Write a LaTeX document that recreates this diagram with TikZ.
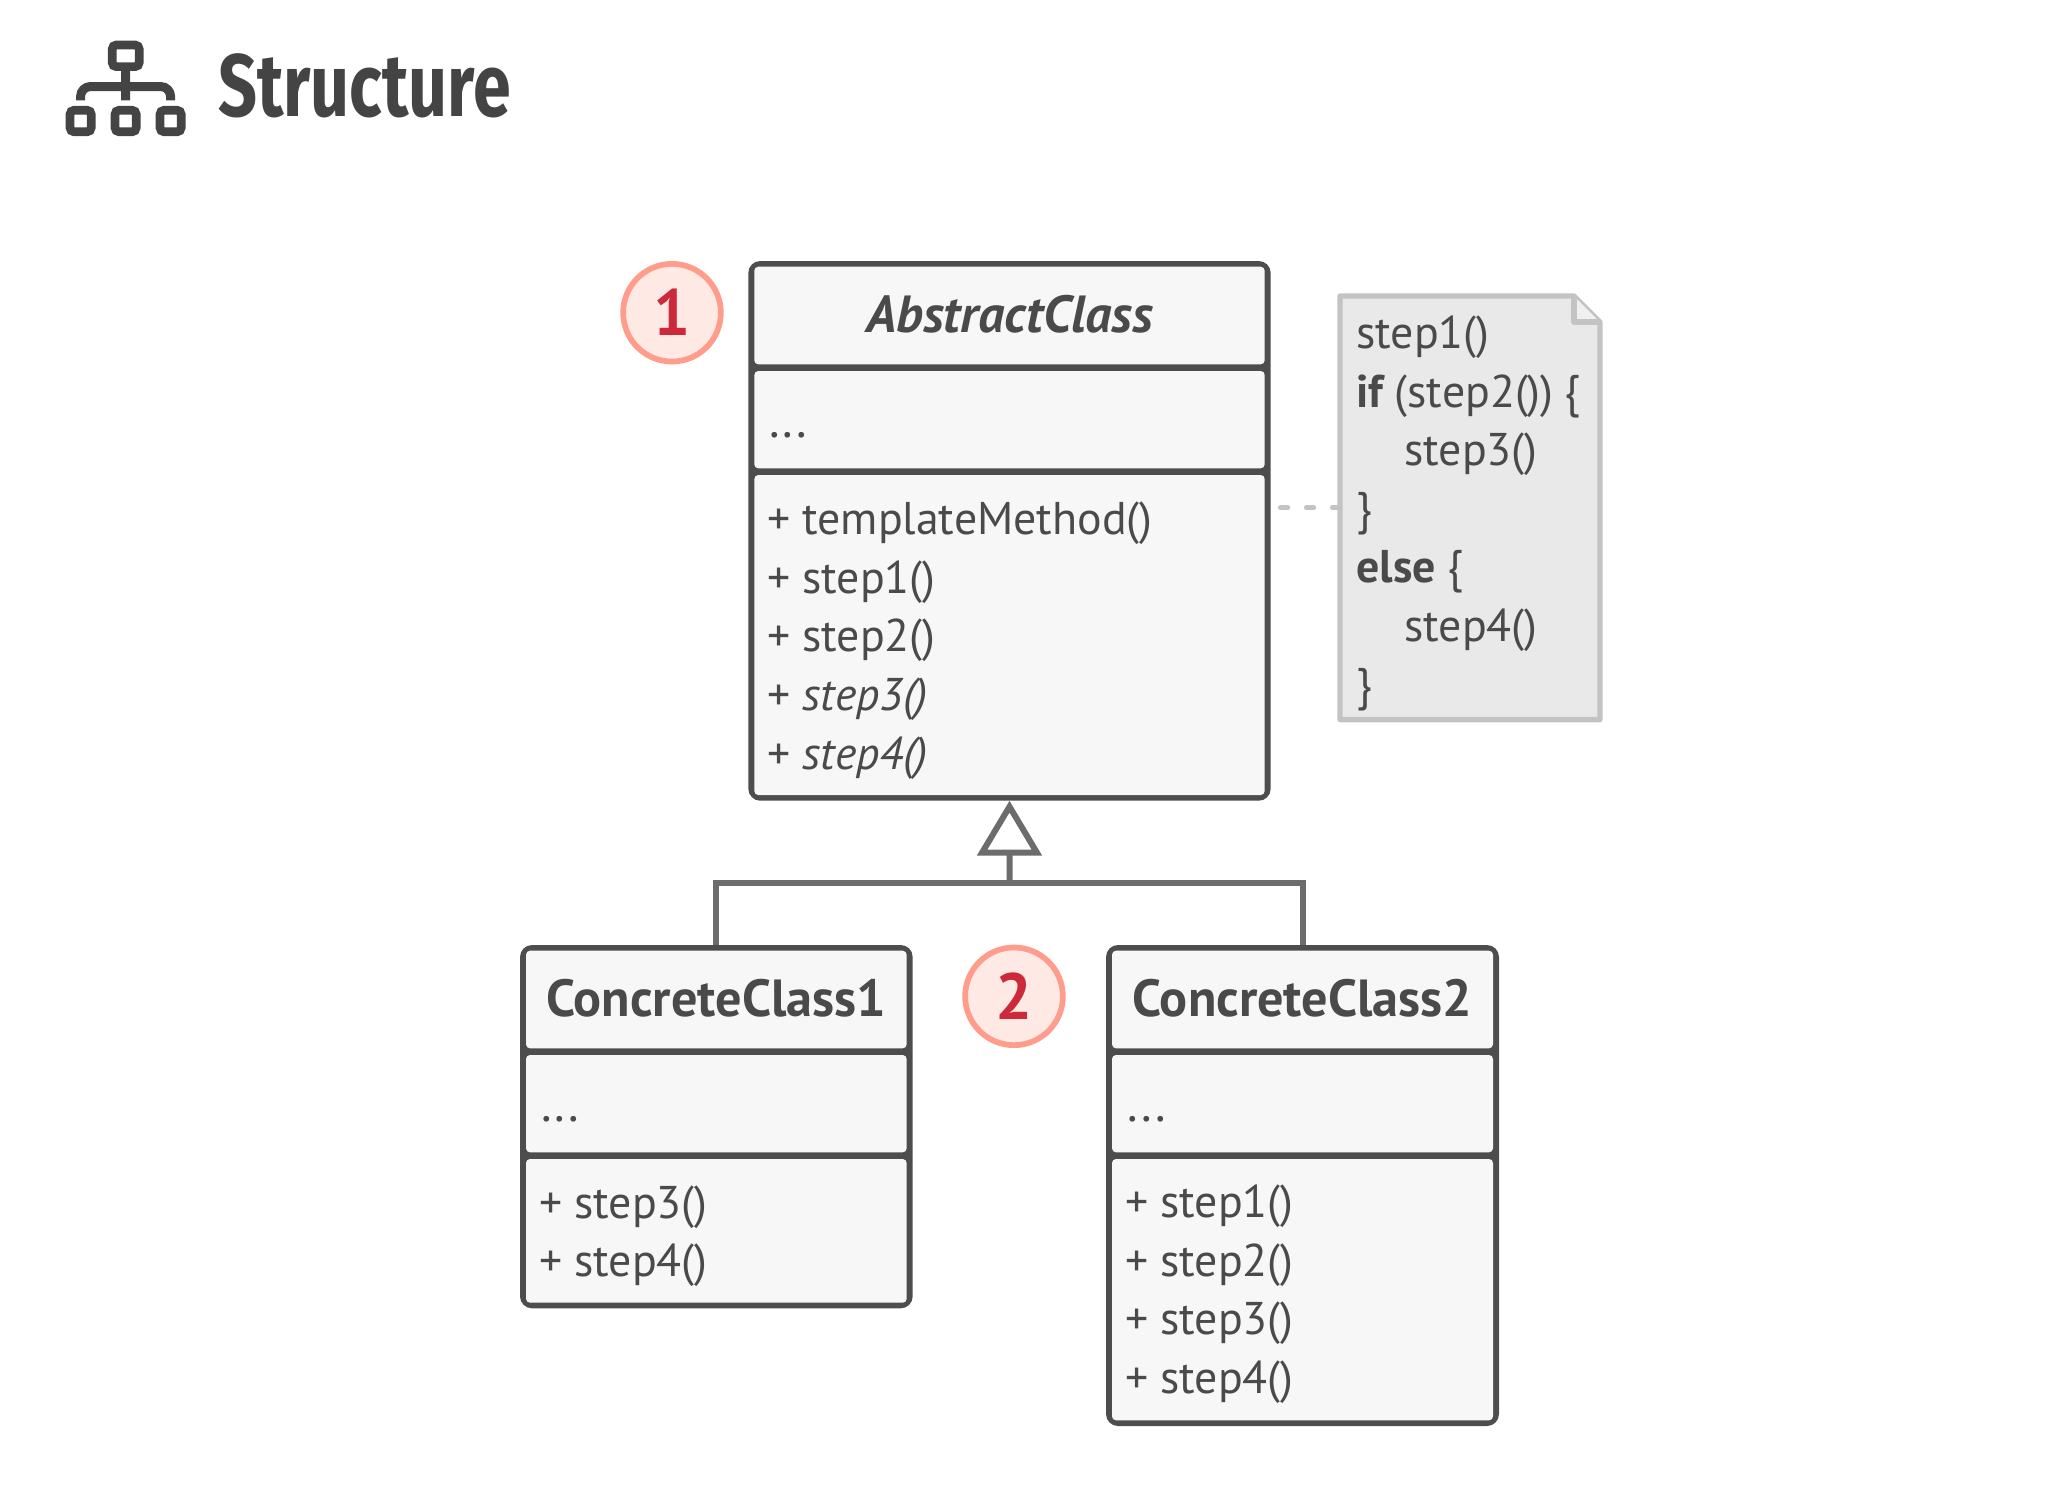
\documentclass[tikz,border=0pt]{standalone}
\usepackage{fontspec}
\setmainfont{PT Sans}
\newfontfamily\titlefont[FakeStretch=0.77]{Fira Sans}
\usetikzlibrary{positioning}
\usetikzlibrary{calc,arrows.meta}
\definecolor{framegray}{HTML}{4D4D4D}
\definecolor{textgray}{HTML}{4A4A4A}
\definecolor{partgray}{HTML}{F7F7F7}
\definecolor{linkgray}{HTML}{6C6C6C}
\definecolor{notegray}{HTML}{C3C3C3}
\definecolor{notefill}{HTML}{E9E9E9}
\definecolor{foldfill}{HTML}{F0F0F0}
\definecolor{markerring}{HTML}{FF9C8C}
\definecolor{markerfill}{HTML}{FEE9E5}
\definecolor{markerred}{HTML}{CC2A3A}
\definecolor{icongray}{HTML}{444444}
\tikzset{
  classframe/.style={shape=rectangle,fill=framegray,rounded corners=0.12cm,anchor=north west,inner sep=0,outer sep=0},
  classpart/.style={shape=rectangle,fill=partgray,rounded corners=0.04cm,anchor=north west,inner sep=0,outer sep=0},
  classhead/.style={classpart,text=textgray,font=\fontsize{14.85}{16.67}\selectfont\bfseries,text height=0.33cm,text depth=0cm},
  classtext/.style={text=textgray,font=\fontsize{13.05}{16.67}\selectfont,align=left,anchor=base west,inner sep=0,outer sep=0},
  classdots/.style={classtext,font=\fontsize{14}{16.67}\selectfont},
  linkline/.style={draw=linkgray,line width=0.06cm},
  noteline/.style={draw=notegray,line width=0.053cm,line join=round},
  marker/.style={shape=circle,draw=markerring,fill=markerfill,line width=0.057cm,minimum size=0.977cm,inner sep=0,text=markerred,font=\fontsize{18.6}{20}\selectfont\bfseries},
  iconbox/.style={shape=rectangle,draw=icongray,line width=0.087cm,rounded corners=0.04cm,inner sep=0,outer sep=0},
  iconline/.style={draw=icongray,line width=0.09cm}
}
\begin{document}
\begin{tikzpicture}[y=-1cm]
\useasboundingbox (0,0) rectangle (20.48,14.91);
\path
(1.257,0.558) node [iconbox,minimum width=0.269cm,minimum height=0.216cm](icontop) {}
(0.806,1.21) node [iconbox,minimum width=0.211cm,minimum height=0.215cm](iconleft) {}
(1.256,1.21) node [iconbox,minimum width=0.211cm,minimum height=0.215cm](iconmid) {}
(1.706,1.21) node [iconbox,minimum width=0.211cm,minimum height=0.215cm](iconright) {}
(1.256,0.865) coordinate (iconbar);
\draw [iconline,shorten >=0.1cm](icontop.south) -- (iconmid.north);
\draw [iconline,rounded corners=0.1cm,shorten <=0.1cm,shorten >=0.1cm](iconleft.north) |- (iconbar) -| (iconright.north);
\node [anchor=base west,inner sep=0,text=icongray,font=\titlefont\fontsize{25.2}{30}\selectfont\bfseries](title) at (2.175,1.167) {Structure};
\path
(7.483,2.61) node [classframe,minimum width=5.224cm,minimum height=5.397cm](abstract) {}
(5.20,9.45) node [classframe,minimum width=3.927cm,minimum height=3.633cm](concrete1) {}
(11.06,9.45) node [classframe,minimum width=3.93cm,minimum height=4.81cm](concrete2) {}
(10.095,8.827) coordinate (bus)
(12.806,5.077) coordinate (notelink);
\draw [linkline,-{Triangle[open,length=0.55cm,width=0.64cm,line width=0.06cm]}](bus) -- (abstract.south);
\draw [linkline](concrete1.north) |- (bus) -| (concrete2.north);
\path
(7.543,2.667) node [classhead,minimum width=5.104cm,minimum height=0.976cm](abstracthead) {\itshape AbstractClass}
(7.543,3.71) node [classpart,minimum width=5.104cm,minimum height=0.973cm](abstractattr) {}
(7.543,4.75) node [classpart,minimum width=5.104cm,minimum height=3.20cm](abstractops) {}
(5.26,9.507) node [classhead,minimum width=3.807cm,minimum height=0.976cm](concrete1head) {ConcreteClass1}
(5.26,10.55) node [classpart,minimum width=3.807cm,minimum height=0.973cm](concrete1attr) {}
(5.26,11.59) node [classpart,minimum width=3.807cm,minimum height=1.437cm](concrete1ops) {}
(11.12,9.507) node [classhead,minimum width=3.81cm,minimum height=0.976cm](concrete2head) {ConcreteClass2}
(11.12,10.55) node [classpart,minimum width=3.81cm,minimum height=0.973cm](concrete2attr) {}
(11.12,11.59) node [classpart,minimum width=3.81cm,minimum height=2.613cm](concrete2ops) {};
\node [classdots](abstractattrtext) at (7.69,4.37) {...};
\node [classtext](abstractopstext) at (7.67,7.69) {+ templateMethod()\\+ step1()\\+ step2()\\+ \textit{step3()}\\+ \textit{step4()}};
\node [classdots](concrete1attrtext) at (5.41,11.21) {...};
\node [classtext](concrete1opstext) at (5.39,12.767) {+ step3()\\+ step4()};
\node [classdots](concrete2attrtext) at (11.276,11.21) {...};
\node [classtext](concrete2opstext) at (11.25,13.933) {+ step1()\\+ step2()\\+ step3()\\+ step4()};
\node [marker](marker1) at (6.72,3.127) {1};
\node [marker](marker2) at (10.14,9.963) {2};
\node [shape=rectangle,anchor=north west,inner sep=0,outer sep=0,minimum width=2.60cm,minimum height=4.236cm](note) at (13.40,2.96) {};
\draw [noteline,fill=notefill]
(note.north west) -- ($(note.north east)+(-0.26,0)$) -- ($(note.north east)+(0,0.26)$) -- (note.south east) -- (note.south west) -- cycle;
\draw [noteline,fill=foldfill]
($(note.north east)+(-0.26,0)$) -- ($(note.north east)+(-0.26,0.26)$) -- ($(note.north east)+(0,0.26)$);
\draw [noteline,line cap=round,dash pattern=on 0.07cm off 0.19cm](notelink) -- (notelink -| note.west);
\node [classtext](notetext) at (13.563,7.0) {step1()\\\textbf{if}\hspace{-0.03cm} (step2())\hspace{-0.01cm} \{\\\hspace*{0.48cm}step3()\\\}\\\textbf{else} \{\\\hspace*{0.48cm}step4()\\\}};
\end{tikzpicture}
\end{document}
